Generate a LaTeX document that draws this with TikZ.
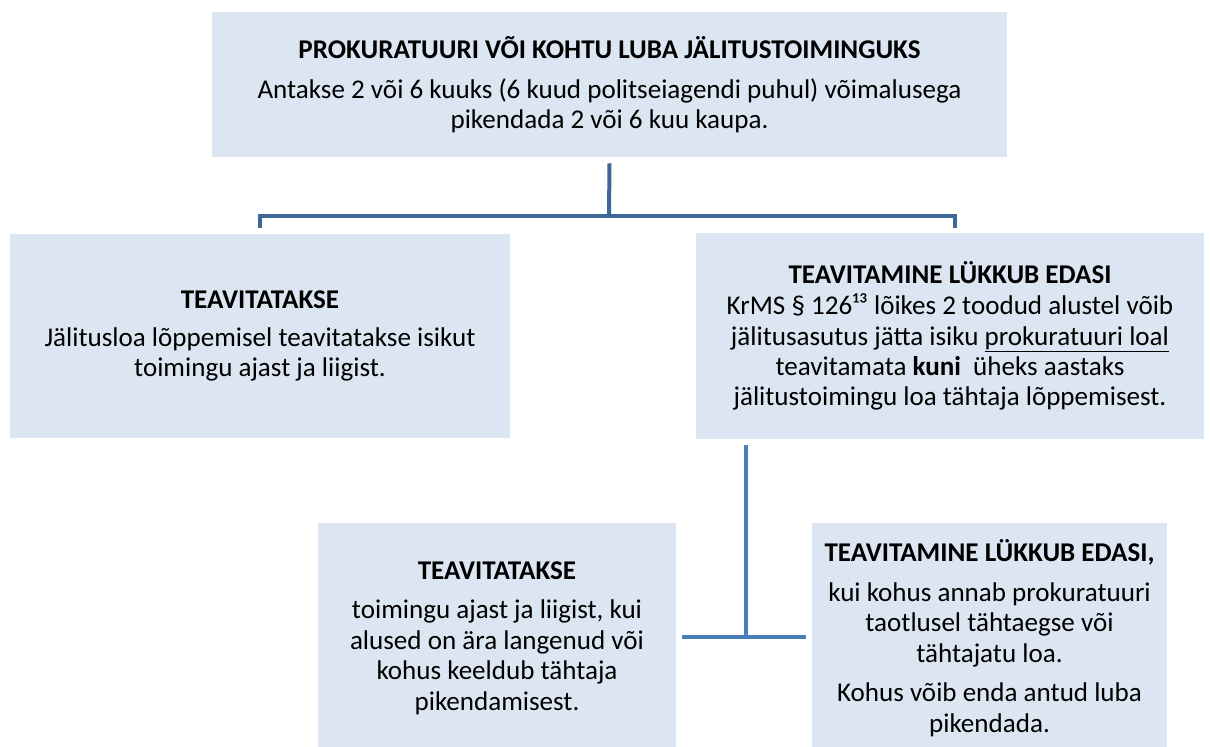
\documentclass[tikz,border=0pt]{standalone}
\usepackage{fontspec}
\setmainfont{Carlito}
\usetikzlibrary{calc}
\definecolor{boxfill}{HTML}{DCE6F2}
\definecolor{linkdark}{HTML}{3E6697}
\definecolor{linklight}{HTML}{4A7EBB}

\begin{document}
\begin{tikzpicture}[x=0.75pt,y=-0.75pt,
    box/.style={fill=boxfill,inner sep=0pt,align=center,font=\fontsize{20.3}{22.8}\selectfont},
    link/.style={line width=3pt,draw=linkdark},
    sublink/.style={line width=3pt,draw=linklight}]
    \useasboundingbox (0,0) rectangle (1210,746);
    \clip (0,0) rectangle (1210,746);

    % Boxes
    \node[box,minimum width=596.25pt,minimum height=108.75pt] (permit) at (609.5,84.5)
        {\textbf{PROKURATUURI VÕI KOHTU LUBA JÄLITUSTOIMINGUKS}\\[7pt]
         Antakse 2 või 6 kuuks (6 kuud politseiagendi puhul) võimalusega\\
         pikendada 2 või 6 kuu kaupa.};
    \node[box,minimum width=375pt,minimum height=153pt] (notify) at (260,336)
        {\textbf{TEAVITATAKSE}\\[6pt]
         Jälitusloa lõppemisel teavitatakse isikut\\
         toimingu ajast ja liigist.};
    \node[box,minimum width=381pt,minimum height=154.5pt] (delay) at (950,336)
        {\textbf{TEAVITAMINE LÜKKUB EDASI}\\[0.5pt]
         KrMS § 126¹³ lõikes 2 toodud alustel võib\\
         jälitusasutus jätta isiku \underline{prokuratuuri loal}\\
         teavitamata \textbf{kuni} \ üheks aastaks\\
         jälitustoimingu loa tähtaja lõppemisest.};
    \node[box,minimum width=268.5pt,minimum height=172.5pt] (notifylate) at (497,638)
        {\textbf{TEAVITATAKSE}\\[7pt]
         toimingu ajast ja liigist, kui\\
         alused on ära langenud või\\
         kohus keeldub tähtaja\\
         pikendamisest.};
    \node[box,minimum width=266.25pt,minimum height=172.5pt] (delaycourt) at (989.5,638)
        {\textbf{TEAVITAMINE LÜKKUB EDASI,}\\[7pt]
         kui kohus annab prokuratuuri\\
         taotlusel tähtaegse või\\
         tähtajatu loa.\\[7pt]
         Kohus võib enda antud luba\\
         pikendada.};

    % Connectors
    \coordinate (split) at (609,216);
    \coordinate (dropL) at (260,228);
    \coordinate (dropR) at (955,228);
    \draw[link] ([yshift=-4.5pt]permit.south) -- (split);
    \draw[link] (dropL) |- (split) -| (dropR);

    \coordinate (tee) at (746,637);
    \draw[sublink] ($(delay.south -| tee)+(0,6)$) -- (tee);
    \draw[sublink] ($(notifylate.east |- tee)+(6,0)$) -- ($(delaycourt.west |- tee)+(-6,0)$);
\end{tikzpicture}
\end{document}
